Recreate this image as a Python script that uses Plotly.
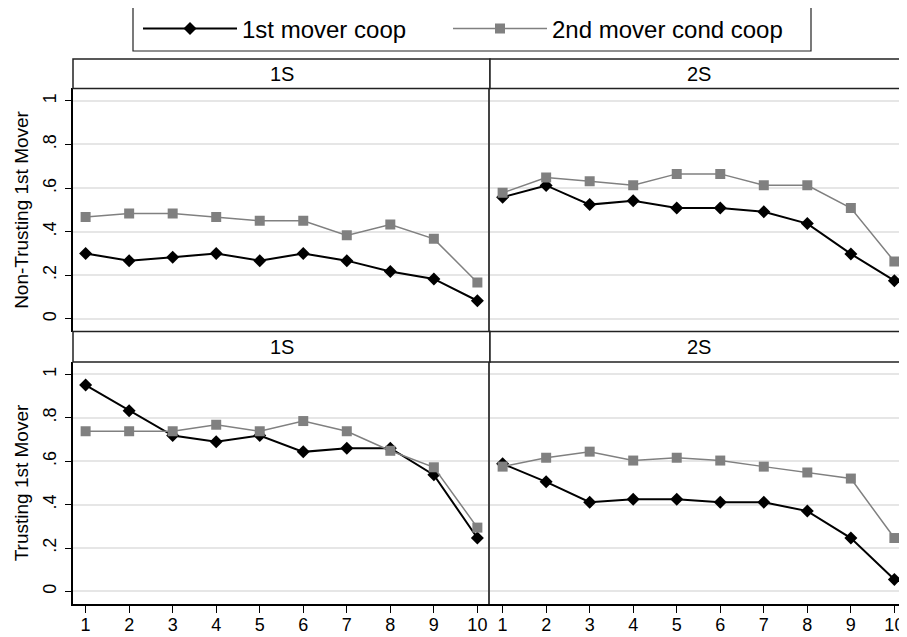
import plotly.graph_objects as go

rounds = [1, 2, 3, 4, 5, 6, 7, 8, 9, 10]
x_tick_labels = ["1", "2", "3", "4", "5", "6", "7", "8", "9", "10"]
y_tick_vals = [0, 0.2, 0.4, 0.6, 0.8, 1.0]
y_tick_labels = ["0", ".2", ".4", ".6", ".8", "1"]

# Non-trusting 1st mover, 1S
nt_1s_first = [0.300, 0.267, 0.283, 0.300, 0.267, 0.300, 0.267, 0.217, 0.183, 0.083]
nt_1s_second = [0.467, 0.483, 0.483, 0.467, 0.450, 0.450, 0.383, 0.433, 0.367, 0.167]
# Non-trusting 1st mover, 2S
nt_2s_first = [0.558, 0.612, 0.524, 0.542, 0.508, 0.508, 0.491, 0.437, 0.298, 0.175]
nt_2s_second = [0.578, 0.648, 0.631, 0.613, 0.665, 0.665, 0.613, 0.613, 0.508, 0.263]
# Trusting 1st mover, 1S
t_1s_first = [0.951, 0.833, 0.718, 0.690, 0.718, 0.643, 0.660, 0.660, 0.537, 0.246]
t_1s_second = [0.738, 0.738, 0.738, 0.768, 0.738, 0.785, 0.738, 0.648, 0.572, 0.294]
# Trusting 1st mover, 2S
t_2s_first = [0.588, 0.505, 0.411, 0.425, 0.425, 0.411, 0.411, 0.370, 0.246, 0.055]
t_2s_second = [0.575, 0.616, 0.644, 0.603, 0.616, 0.603, 0.575, 0.548, 0.520, 0.246]

panel_titles = ["1S", "2S"]
row_titles = ["Non-Trusting 1st Mover", "Trusting 1st Mover"]
series_names = ["1st mover coop", "2nd mover cond coop"]

FONT = "Liberation Sans, Arial, Helvetica, sans-serif"
BLACK = "#000000"
GRAY = "#808080"

fig = go.Figure()

panels = [
    ("x", "y", nt_1s_first, nt_1s_second, True),
    ("x2", "y2", nt_2s_first, nt_2s_second, False),
    ("x3", "y3", t_1s_first, t_1s_second, False),
    ("x4", "y4", t_2s_first, t_2s_second, False),
]

for xa, ya, first, second, show in panels:
    fig.add_trace(go.Scatter(
        x=rounds, y=first, xaxis=xa, yaxis=ya, mode="lines+markers",
        name=series_names[0], legend="legend", showlegend=show,
        line=dict(color=BLACK, width=2),
        marker=dict(symbol="diamond", size=10, color=BLACK),
    ))
    fig.add_trace(go.Scatter(
        x=rounds, y=second, xaxis=xa, yaxis=ya, mode="lines+markers",
        name=series_names[1], legend="legend2", showlegend=show,
        line=dict(color=GRAY, width=1.5),
        marker=dict(symbol="square", size=10, color=GRAY),
    ))

# Figure is placed at an 8px page margin inside the 907x637 window
W, H = 899, 629
L, R, T, B = 65, 0, 51, 33
PW, PH = W - L - R, H - T - B

def px_x(x):  # window pixel -> paper x
    return (x - 8 - L) / PW

def px_y(y):  # window pixel -> paper y
    return (H - B - (y - 8)) / PH

# vertical layout (paper fractions)
bot_plot = [0.0, 0.444]
bot_strip = [0.444, 0.5]
top_plot = [0.5, 0.946]
top_strip = [0.946, 1.0]

xr = [0.71, 10.29]
yr = [-0.058, 1.057]

common_x = dict(range=xr, tickvals=rounds, ticktext=x_tick_labels, showgrid=False,
                zeroline=False, automargin=False)
common_y = dict(range=yr, tickvals=y_tick_vals, ticktext=y_tick_labels, showgrid=True,
                gridcolor="#e6e6e6", gridwidth=1.5, zeroline=False, automargin=False)

top_x = dict(common_x, showline=False, ticks="", showticklabels=False)
bot_x = dict(common_x, showline=True, linecolor=BLACK, linewidth=1.5, ticks="outside",
             ticklen=7, tickcolor=BLACK, tickwidth=1.2, ticklabelstandoff=-3,
             tickfont=dict(family=FONT, size=18, color=BLACK))
left_y = dict(common_y, showline=True, linecolor=BLACK, linewidth=1.5, ticks="outside",
              ticklen=6, tickcolor=BLACK, tickwidth=1.2, tickangle=-90,
              tickfont=dict(family=FONT, size=18, color=BLACK), ticklabelstandoff=2)
right_y = dict(common_y, showline=True, linecolor="#444444", linewidth=1.5, ticks="",
               showticklabels=False)

TITLE_FONT = dict(family=FONT, size=19, color=BLACK)

fig.update_layout(
    xaxis=dict(top_x, domain=[0, 0.5], anchor="y"),
    yaxis=dict(left_y, domain=top_plot, anchor="x",
               title=dict(text=row_titles[0], font=TITLE_FONT, standoff=6)),
    xaxis2=dict(top_x, domain=[0.5, 1], anchor="y2"),
    yaxis2=dict(right_y, domain=top_plot, anchor="x2"),
    xaxis3=dict(bot_x, domain=[0, 0.5], anchor="y3"),
    yaxis3=dict(left_y, domain=bot_plot, anchor="x3",
                title=dict(text=row_titles[1], font=TITLE_FONT, standoff=6)),
    xaxis4=dict(bot_x, domain=[0.5, 1], anchor="y4"),
    yaxis4=dict(right_y, domain=bot_plot, anchor="x4"),
)

shapes = []
annotations = []
for (y0, y1) in [top_strip, bot_strip]:
    for i, (x0, x1) in enumerate([(0, 0.5), (0.5, 1.01)]):
        shapes.append(dict(type="rect", xref="paper", yref="paper", x0=x0, x1=x1, y0=y0, y1=y1,
                           line=dict(color="#222222", width=1.5), fillcolor="white", layer="above"))
        annotations.append(dict(text=panel_titles[i], xref="paper", yref="paper",
                                x=(x0 + min(x1, 1)) / 2, y=(y0 + y1) / 2, showarrow=False,
                                xanchor="center", yanchor="middle",
                                font=dict(family=FONT, size=20, color=BLACK)))

# legend box
shapes.append(dict(type="rect", xref="paper", yref="paper",
                   x0=px_x(133), x1=px_x(811), y0=px_y(51), y1=px_y(7),
                   line=dict(color="#222222", width=1.2), fillcolor="rgba(0,0,0,0)"))

legend_common = dict(orientation="h", xanchor="left", y=px_y(29), yanchor="middle",
                     itemwidth=94, font=dict(family=FONT, size=24, color=BLACK),
                     bgcolor="rgba(0,0,0,0)", borderwidth=0)

fig.update_layout(
    width=W, height=H,
    margin=dict(l=L, r=R, t=T, b=B, autoexpand=False),
    paper_bgcolor="white", plot_bgcolor="white",
    font=dict(family=FONT, size=16, color=BLACK),
    shapes=shapes, annotations=annotations,
    legend=dict(legend_common, x=px_x(138)),
    legend2=dict(legend_common, x=px_x(448)),
    showlegend=True,
)

fig.write_html("out.html")
